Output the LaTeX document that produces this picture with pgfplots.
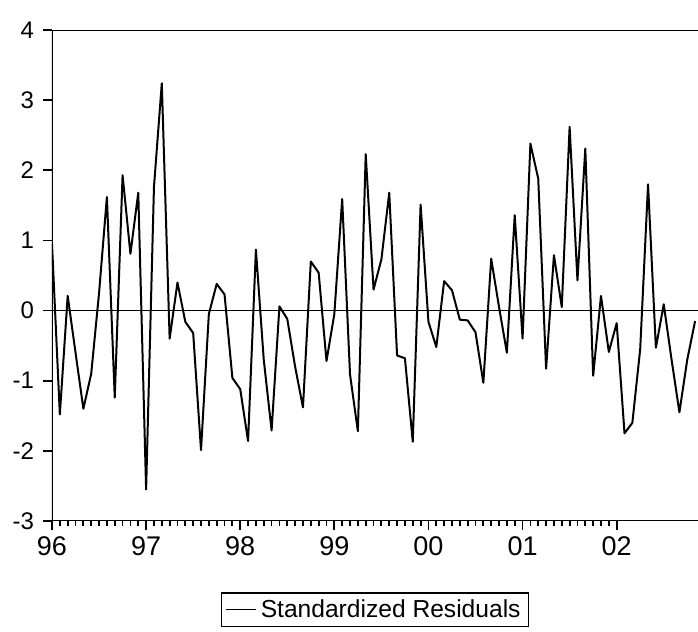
\documentclass[border=0pt]{standalone}
\usepackage{pgfplots}
\pgfplotsset{compat=1.18}
\usepackage{fontspec}
\setmainfont{Liberation Sans}
\pgfplotstableread{
i v
0 0.95
1 -1.48
2 0.21
3 -0.60
4 -1.40
5 -0.90
6 0.25
7 1.62
8 -1.24
9 1.93
10 0.81
11 1.68
12 -2.55
13 1.76
14 3.24
15 -0.40
16 0.40
17 -0.16
18 -0.32
19 -1.99
20 -0.05
21 0.38
22 0.23
23 -0.96
24 -1.12
25 -1.86
26 0.87
27 -0.70
28 -1.71
29 0.06
30 -0.12
31 -0.80
32 -1.38
33 0.70
34 0.54
35 -0.72
36 -0.05
37 1.59
38 -0.91
39 -1.72
40 2.23
41 0.30
42 0.73
43 1.68
44 -0.64
45 -0.68
46 -1.87
47 1.51
48 -0.16
49 -0.52
50 0.42
51 0.29
52 -0.13
53 -0.14
54 -0.31
55 -1.03
56 0.74
57 0.05
58 -0.60
59 1.36
60 -0.40
61 2.38
62 1.88
63 -0.83
64 0.79
65 0.05
66 2.62
67 0.43
68 2.31
69 -0.93
70 0.21
71 -0.59
72 -0.18
73 -1.75
74 -1.60
75 -0.55
76 1.80
77 -0.53
78 0.09
79 -0.70
80 -1.45
81 -0.70
82 -0.15
}\resid
\begin{document}
\begin{tikzpicture}
\path[use as bounding box] (-26pt,-55.5pt) rectangle (323pt,260.5pt);
\begin{axis}[
  at={(0,0)}, anchor=south west,
  scale only axis, width=323pt, height=245.5pt,
  xmin=0, xmax=82.37, ymin=-3, ymax=4,
  axis line style={draw=none},
  tick align=outside,
  xtick={0,12,...,72}, xticklabels={96,97,98,99,00,01,02},
  minor x tick num=11,
  ytick={-3,-2,-1,0,1,2,3,4},
  yticklabels={-3,-2,-1,0,1,2,3,4},
  xtick pos=bottom, ytick pos=left,
  major tick length=4.5pt, minor tick length=2.5pt,
  tick style={black, line width=0.9pt},
  x tick label style={font=\fontsize{13.5}{13.5}\selectfont, yshift=0pt},
  y tick label style={font=\fontsize{12}{12}\selectfont, xshift=-1pt},
  legend style={at={(axis description cs:0.5,-0.1446)}, anchor=north,
    draw=black, line width=0.8pt, font=\fontsize{12.3}{12.5}\selectfont,
    inner xsep=2pt, inner ysep=1.2pt},
  legend cell align=left,
  legend image code/.code={\draw[black, line width=0.7pt] (0pt,0pt) -- (15pt,0pt);},
]
\addplot[black, line width=0.6pt, forget plot] coordinates {(0,0) (82.37,0)};
\addplot[black, line width=1pt, line join=round] table[x=i, y=v] {\resid};
\addlegendentry{Standardized Residuals}
\draw[black, line width=1.1pt] (rel axis cs:1,1) -- (rel axis cs:0,1) -- (rel axis cs:0,0) -- (rel axis cs:1,0);
\end{axis}
\end{tikzpicture}
\end{document}
